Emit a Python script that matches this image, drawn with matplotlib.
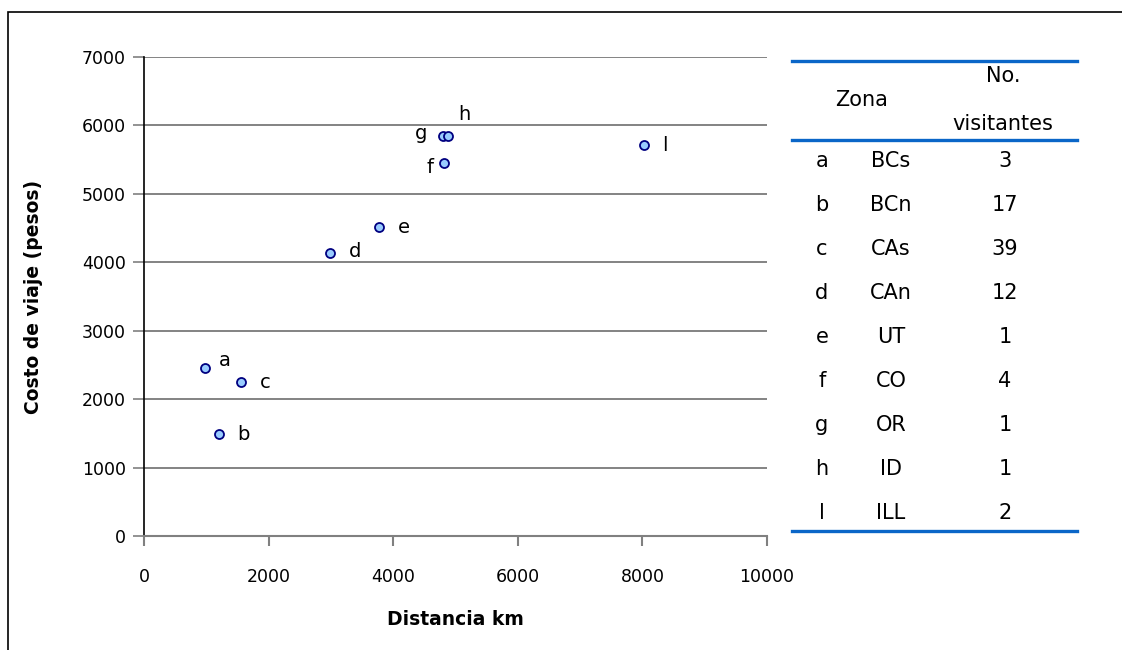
import matplotlib
matplotlib.use("Agg")
import matplotlib.pyplot as plt
from matplotlib.lines import Line2D
from matplotlib.patches import Rectangle

# data
labels = ["a", "b", "c", "d", "e", "f", "g", "h", "l"]
distancia = [980, 1200, 1550, 2980, 3770, 4820, 4800, 4880, 8030]
costo = [2450, 1490, 2250, 4140, 4510, 5450, 5840, 5840, 5710]
label_offsets = [(20, 8), (25, 0), (25, 0), (25, 1), (25, 0), (-14, -4), (-22, 3), (16, 22), (21, 0)]

tabla_letra = ["a", "b", "c", "d", "e", "f", "g", "h", "l"]
tabla_zona = ["BCs", "BCn", "CAs", "CAn", "UT", "CO", "OR", "ID", "ILL"]
tabla_visitantes = [3, 17, 39, 12, 1, 4, 1, 1, 2]

x_ticks = [0, 2000, 4000, 6000, 8000, 10000]
y_ticks = [0, 1000, 2000, 3000, 4000, 5000, 6000, 7000]

plt.rcParams['font.family'] = ['DejaVu Sans']

W, H = 1122, 650
fig = plt.figure(figsize=(W / 100, H / 100), dpi=100)

# outer border
fig.patches.append(Rectangle((8 / W, 1 - 660 / H), 1130 / W, (660 - 12) / H,
                             transform=fig.transFigure, fill=False,
                             edgecolor='black', linewidth=1.2))

ax = fig.add_axes([144 / W, (650 - 536) / H, (767 - 144) / W, (536 - 57) / H])
ax.set_xlim(0, 10000)
ax.set_ylim(0, 7000)
ax.set_xticks(x_ticks)
ax.set_yticks(y_ticks)
ax.set_xticklabels([str(v) for v in x_ticks], fontsize=12.5)
ax.set_yticklabels([str(v) for v in y_ticks], fontsize=12.5)

for s in ['top', 'right']:
    ax.spines[s].set_visible(False)
ax.spines['left'].set_color('black')
ax.spines['left'].set_linewidth(1.2)
ax.spines['bottom'].set_color('#808080')
ax.spines['bottom'].set_linewidth(1.5)
ax.tick_params(axis='y', length=8, width=1.2, color='#808080', pad=5)
ax.tick_params(axis='x', length=7, width=1.5, color='#808080', pad=16)
ax.yaxis.grid(True, color='#7a7a7a', linewidth=1.3)
ax.set_axisbelow(True)

ax.scatter(distancia, costo, s=42, facecolor='#99ccff', edgecolor='#000080',
           linewidth=1.3, zorder=3, clip_on=False)
for lab, x, y, off in zip(labels, distancia, costo, label_offsets):
    ax.annotate(lab, (x, y), xytext=off, textcoords='offset pixels',
                ha='center', va='center', fontsize=14)

ax.set_xlabel("Distancia km", fontsize=13.5, fontweight='bold', labelpad=17)
ax.set_ylabel("Costo de viaje (pesos)", fontsize=13.5, fontweight='bold', labelpad=28)

# table
blue = '#0a66c8'
def fx(px):
    return px / W
def fy(py):
    return 1 - py / H

for yline in [61, 140, 531]:
    fig.add_artist(Line2D([fx(792), fx(1077)], [fy(yline), fy(yline)],
                          color=blue, linewidth=2.4, transform=fig.transFigure))

tfs = 15
fig.text(fx(862), fy(100), "Zona", ha='center', va='center', fontsize=tfs)
fig.text(fx(1003), fy(76), "No.", ha='center', va='center', fontsize=tfs)
fig.text(fx(1003), fy(124), "visitantes", ha='center', va='center', fontsize=tfs)

row0, step = 161, 44
for i, (l, z, v) in enumerate(zip(tabla_letra, tabla_zona, tabla_visitantes)):
    yy = fy(row0 + i * step)
    fig.text(fx(822), yy, l, ha='center', va='center', fontsize=tfs)
    fig.text(fx(891), yy, z, ha='center', va='center', fontsize=tfs)
    fig.text(fx(1005), yy, str(v), ha='center', va='center', fontsize=tfs)

fig.savefig("out.png", dpi=100)
